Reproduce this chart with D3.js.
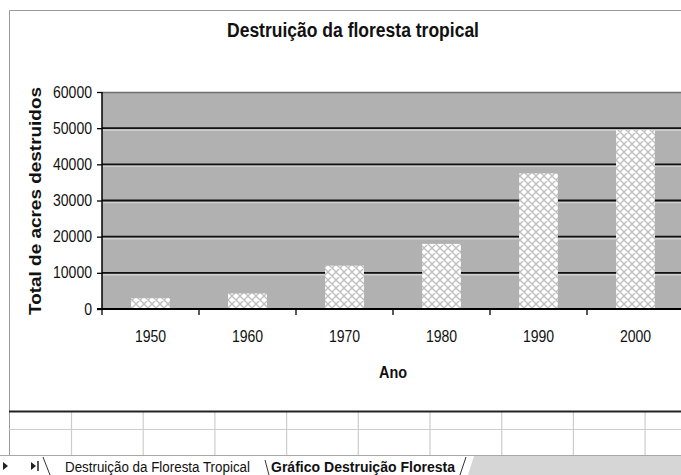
<!DOCTYPE html>
<html>
<head>
<meta charset="utf-8">
<script src="https://cdn.jsdelivr.net/npm/d3@7"></script>
<style>
  html, body { margin: 0; padding: 0; background: #fff; }
  svg { display: block; }
</style>
</head>
<body>
<svg id="chart" width="681" height="475"></svg>
<script>
// Rainforest destruction data (acres destroyed per decade)
const years = ["1950", "1960", "1970", "1980", "1990", "2000"];
const acres = [3000, 4300, 12000, 18000, 37500, 49500];
const yTicks = [0, 10000, 20000, 30000, 40000, 50000, 60000];
const sheetTabs = ["Destruição da Floresta Tropical", "Gráfico Destruição Floresta"];

const W = 681, H = 475;
const svg = d3.select("#chart");
const sans = "'Liberation Sans', Arial, sans-serif";
const CHAR_W = 7.8; // condensed digit width

// crosshatch fill for the bars
const defs = svg.append("defs");
const pat = defs.append("pattern")
  .attr("id", "hatch").attr("patternUnits", "userSpaceOnUse")
  .attr("width", 8).attr("height", 8);
pat.append("rect").attr("width", 8).attr("height", 8).attr("fill", "#ffffff");
pat.append("path").attr("d", "M0,0 L8,8 M8,0 L0,8 M-1,7 L1,9 M7,-1 L9,1 M-1,1 L1,-1 M7,9 L9,7")
  .attr("stroke", "#bdbdbd").attr("stroke-width", 1.3).attr("fill", "none");

// chart frame
svg.append("path").attr("d", `M9.5,${H} V10.5 H${W}`).attr("fill", "none").attr("stroke", "#9a9a9a").attr("stroke-width", 1);

// plot area
const plot = { left: 102, right: 684, top: 92, bottom: 309 };
const x = d3.scaleBand().domain(years).range([plot.left, plot.right]).padding(0);
const y = d3.scaleLinear().domain([0, 60000]).range([plot.bottom, plot.top]);

svg.append("rect")
  .attr("x", plot.left).attr("y", plot.top)
  .attr("width", plot.right - plot.left).attr("height", plot.bottom - plot.top)
  .attr("fill", "#b1b1b1");
svg.append("line").attr("x1", plot.left).attr("x2", plot.right)
  .attr("y1", plot.top + 0.5).attr("y2", plot.top + 0.5).attr("stroke", "#6e6e6e").attr("stroke-width", 1.5);

// gridlines: dark line with a light highlight under it
const grid = svg.append("g");
yTicks.filter(v => v > 0 && v < 60000).forEach(v => {
  grid.append("line").attr("x1", plot.left).attr("x2", plot.right)
    .attr("y1", y(v) + 2).attr("y2", y(v) + 2).attr("stroke", "#cfcfcf").attr("stroke-width", 1.5);
  grid.append("line").attr("x1", plot.left).attr("x2", plot.right)
    .attr("y1", y(v)).attr("y2", y(v)).attr("stroke", "#111").attr("stroke-width", 1.8);
});

// bars
const barW = x.bandwidth() * 0.4;
svg.append("g").selectAll("rect").data(years).join("rect")
  .attr("x", (d) => x(d) + (x.bandwidth() - barW) / 2)
  .attr("y", (d, i) => y(acres[i]))
  .attr("width", barW)
  .attr("height", (d, i) => y(0) - y(acres[i]))
  .attr("fill", "url(#hatch)");

// y axis
const yAxis = svg.append("g").attr("transform", `translate(${plot.left},0)`)
  .call(d3.axisLeft(y).tickValues(yTicks).tickFormat(d3.format("d")).tickSize(5).tickPadding(5));
yAxis.select(".domain").attr("stroke", "#000").attr("stroke-width", 1.5).attr("d", `M0,${plot.top}V${plot.bottom}`);
yAxis.selectAll(".tick line").attr("stroke", "#000").attr("stroke-width", 1.3);
yAxis.selectAll("text").attr("font-family", sans).attr("font-size", 16).attr("fill", "#111")
  .each(function () { const n = this.textContent.length; d3.select(this).attr("textLength", n * CHAR_W).attr("lengthAdjust", "spacingAndGlyphs"); });

// x axis: ticks at category boundaries
const xAxisG = svg.append("g").attr("transform", `translate(0,${plot.bottom})`);
xAxisG.append("line").attr("x1", plot.left - 5).attr("x2", plot.right)
  .attr("stroke", "#000").attr("stroke-width", 1.8);
const bounds = years.map(d => x(d)).concat([x(years[years.length - 1]) + x.step()]);
xAxisG.selectAll("line.tk").data(bounds).join("line").attr("class", "tk")
  .attr("x1", d => d).attr("x2", d => d).attr("y1", 0).attr("y2", 6)
  .attr("stroke", "#000").attr("stroke-width", 1.3);
xAxisG.selectAll("text").data(years).join("text")
  .attr("x", d => x(d) + x.bandwidth() / 2).attr("y", 33)
  .attr("text-anchor", "middle").attr("font-family", sans).attr("font-size", 16).attr("fill", "#111")
  .attr("textLength", d => d.length * CHAR_W).attr("lengthAdjust", "spacingAndGlyphs")
  .text(d => d);

// titles
svg.append("text").attr("x", 353).attr("y", 37).attr("text-anchor", "middle")
  .attr("font-family", sans).attr("font-size", 20).attr("font-weight", "bold").attr("fill", "#111")
  .attr("textLength", 252).attr("lengthAdjust", "spacingAndGlyphs")
  .text("Destruição da floresta tropical");
svg.append("text").attr("x", (plot.left + plot.right) / 2).attr("y", 378).attr("text-anchor", "middle")
  .attr("font-family", sans).attr("font-size", 16).attr("font-weight", "bold").attr("fill", "#111")
  .attr("textLength", 28).attr("lengthAdjust", "spacingAndGlyphs")
  .text("Ano");
svg.append("text").attr("transform", "translate(41,201) rotate(-90)").attr("text-anchor", "middle")
  .attr("font-family", sans).attr("font-size", 16).attr("font-weight", "bold").attr("fill", "#111")
  .attr("textLength", 228).attr("lengthAdjust", "spacingAndGlyphs")
  .text("Total de acres destruidos");

// spreadsheet cells under the chart
const cells = svg.append("g");
const colX = d3.range(0, 10).map(i => 71.5 + i * 71.7);
cells.selectAll("line.col").data(colX).join("line").attr("class", "col")
  .attr("x1", d => d).attr("x2", d => d).attr("y1", 412).attr("y2", 455)
  .attr("stroke", "#cdcdcd").attr("stroke-width", 1.2);
[429.5].forEach(v => cells.append("line").attr("x1", 9).attr("x2", W).attr("y1", v).attr("y2", v)
  .attr("stroke", "#cdcdcd").attr("stroke-width", 1.2));
svg.append("line").attr("x1", 9).attr("x2", W).attr("y1", 411.5).attr("y2", 411.5)
  .attr("stroke", "#222").attr("stroke-width", 2.2);

// sheet tab bar
const tabs = svg.append("g");
tabs.append("rect").attr("x", 0).attr("y", 455).attr("width", W).attr("height", 20).attr("fill", "#fff");
tabs.append("path").attr("d", `M468,475 L474,456 H${W} V475 Z`).attr("fill", "#d6d6d6");
tabs.append("line").attr("x1", 0).attr("x2", W).attr("y1", 455.5).attr("y2", 455.5).attr("stroke", "#a8a8a8");
tabs.append("path").attr("d", "M3,462 L8,466 L3,470 Z M31,462 L36,466 L31,470 Z").attr("fill", "#222");
tabs.append("line").attr("x1", 38).attr("x2", 38).attr("y1", 461).attr("y2", 471).attr("stroke", "#222").attr("stroke-width", 1.5);
tabs.append("path").attr("d", "M43,457 L50,475 M265,460 L269,475 M466,457 L460,475").attr("stroke", "#333").attr("fill", "none");
tabs.append("text").attr("x", 65).attr("y", 472).attr("font-family", sans).attr("font-size", 14)
  .attr("textLength", 185).attr("lengthAdjust", "spacingAndGlyphs").attr("fill", "#111").text(sheetTabs[0]);
tabs.append("text").attr("x", 271).attr("y", 472).attr("font-family", sans).attr("font-size", 14)
  .attr("font-weight", "bold").attr("textLength", 184).attr("lengthAdjust", "spacingAndGlyphs").attr("fill", "#111").text(sheetTabs[1]);
</script>
</body>
</html>
